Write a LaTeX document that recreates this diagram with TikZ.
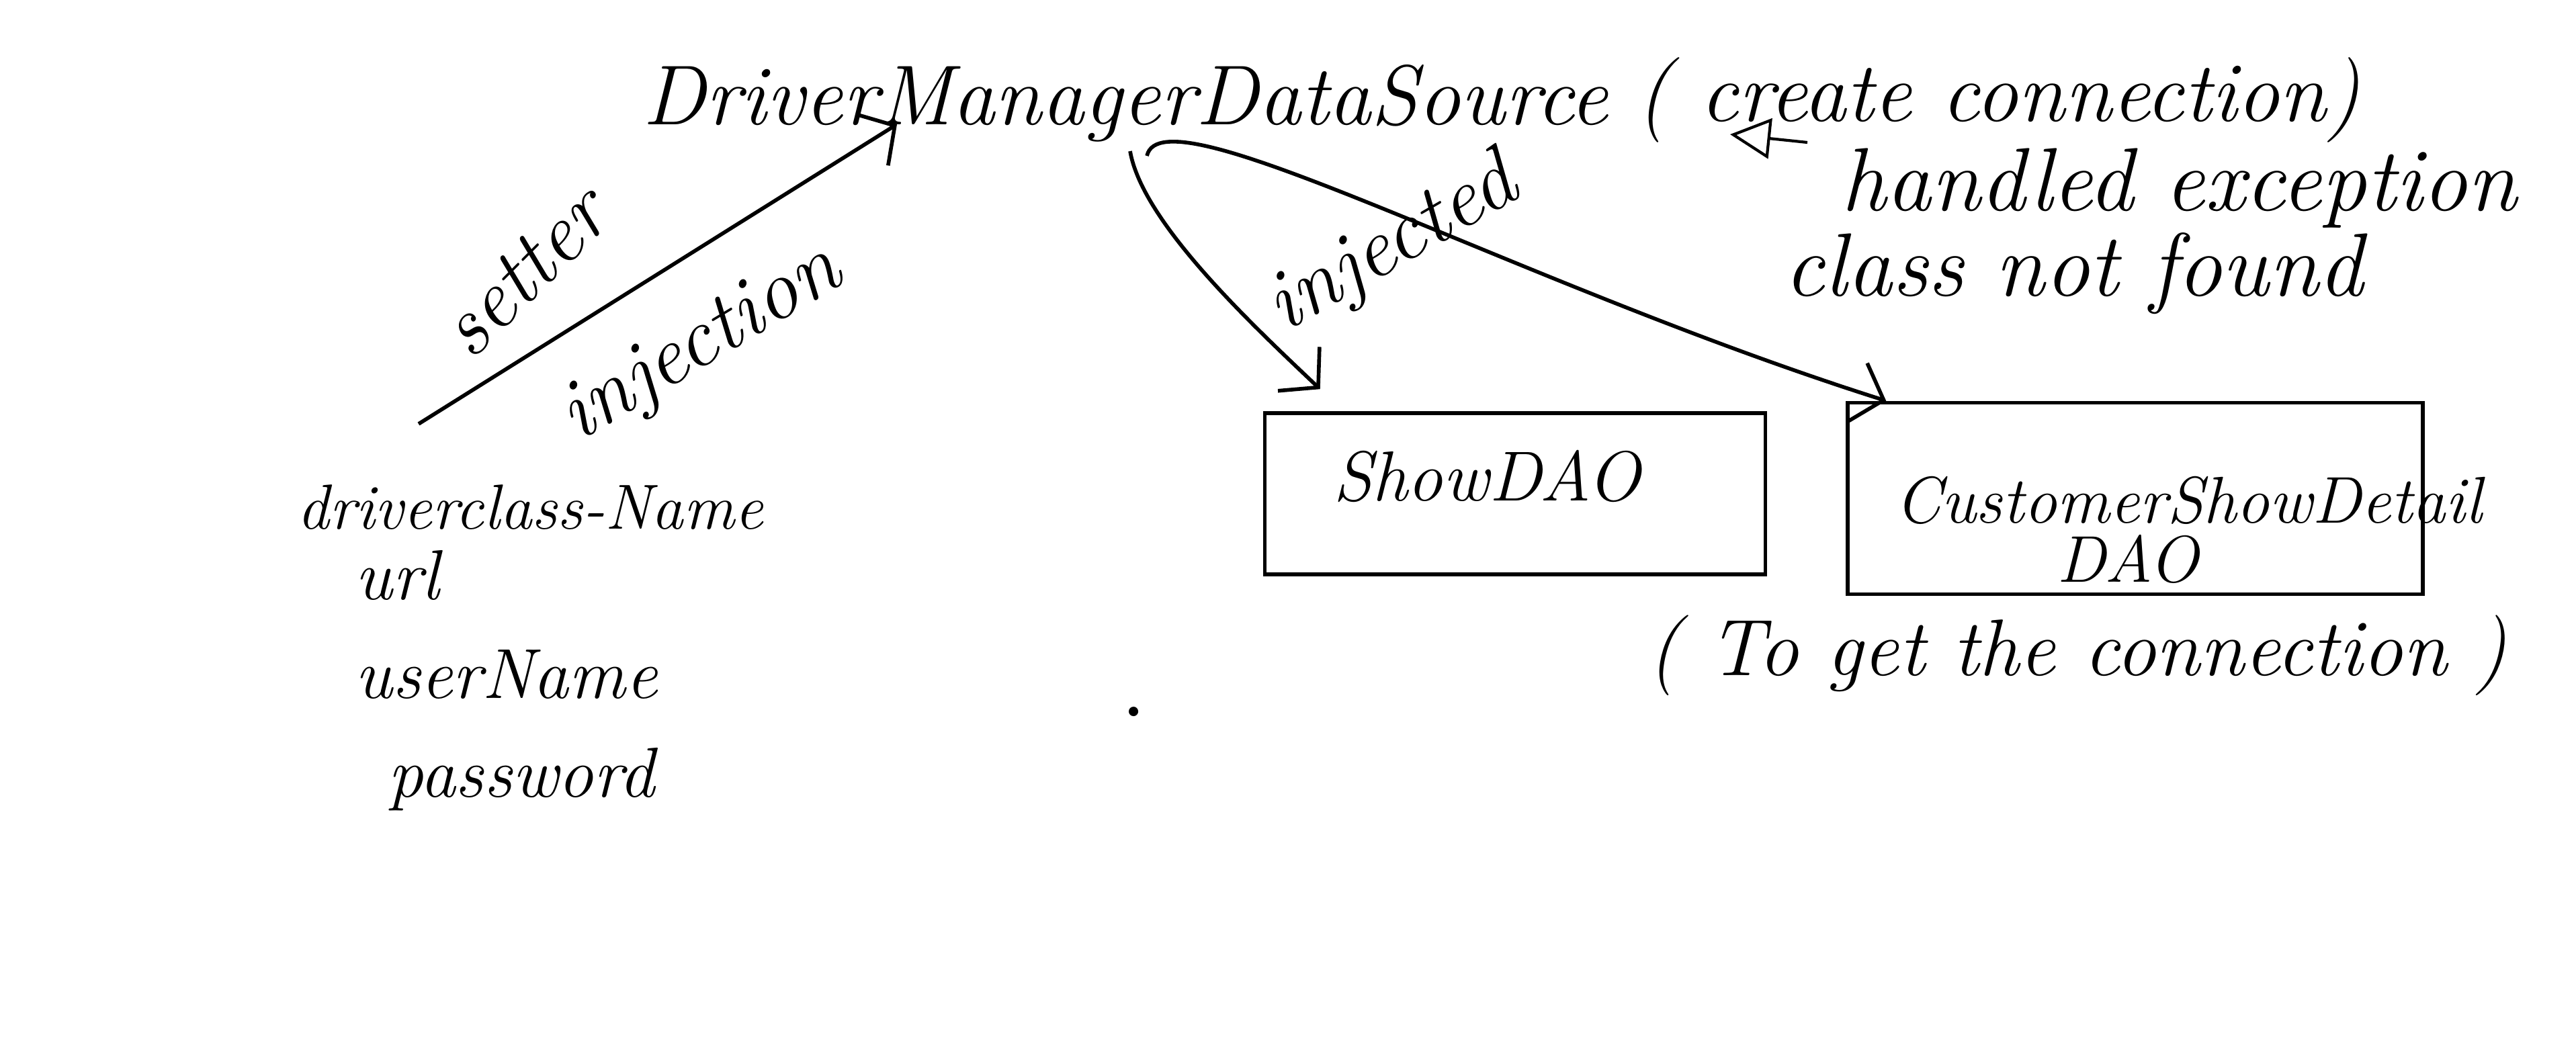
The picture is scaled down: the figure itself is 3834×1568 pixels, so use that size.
\documentclass[tikz,border=0pt]{standalone}
\usepackage{tikz}
\usetikzlibrary{arrows.meta,positioning}

\begin{document}
\begin{tikzpicture}[x=0.1mm,y=-0.1mm,->,>={Straight Barb[length=4mm,width=9mm]},line width=1.6pt]
  \tikzstyle{every node}=[inner sep=0pt]
  \tikzstyle{big}=[font=\fontsize{36}{42}\selectfont\itshape]
  \tikzstyle{note}=[font=\fontsize{38}{44}\selectfont\itshape]
  \tikzstyle{param}=[font=\fontsize{30}{36}\selectfont\itshape]
  \tikzstyle{daobox}=[draw,line width=1.6pt,rectangle]

  \useasboundingbox (0,0) rectangle (3834,1568);

  % data source and its notes
  \node[big,anchor=base west]  (dmds)    at (954,185)  {DriverManagerDataSource};
  \node[big,anchor=base west]  (create)  at (2433,180) {( create connection)};
  \node[note,anchor=base west] (handled) at (2738,313) {handled exception};
  \node[note,anchor=base west] (cnf)     at (2653,440) {class not found};
  \coordinate (hTail) at (2690,212);
  \coordinate (hTip)  at (2575,200);
  \draw[-{Triangle[open,length=6mm,width=6mm]},line width=1.2pt] (hTail) -- (hTip);

  % properties
  \node[param,anchor=base west,font=\fontsize{27}{32}\selectfont\itshape] (dcn) at (440,787) {driverclass-Name};
  \node[param,anchor=base west] (url)  at (526,892)  {url};
  \node[param,anchor=base west] (user) at (526,1039) {userName};
  \node[param,anchor=base west] (pwd)  at (575,1186) {password};
  \fill[-] (1687,1059) circle (2pt);

  \coordinate (setTail) at (623,631);
  \draw (setTail) -- ([xshift=38.1mm]dmds.base west);
  \node[big,rotate=45] (setter) at (780,405)  {setter};
  \node[big,rotate=31] (inj)    at (1045,515) {injection};

  % DAOs
  \node[daobox,minimum width=74.5mm,minimum height=24mm] (show) at (2255,735) {};
  \node[param] (showtxt) at (2213,709) {ShowDAO};
  \node[daobox,minimum width=85.6mm,minimum height=28.5mm] (csd) at (3178,742) {};
  \node[param,font=\fontsize{28}{34}\selectfont\itshape] (csdname) at (3257,745) {CustomerShowDetail};
  \node[param,font=\fontsize{28}{34}\selectfont\itshape,below=1mm of csdname,xshift=-9mm] (csddao) {DAO};
  \node[big,anchor=base west,font=\fontsize{34}{40}\selectfont\itshape] (getconn) at (2450,1005) {( To get the connection )};

  \draw ([xshift=72.8mm,yshift=-4mm]dmds.base west)
    .. controls (1700,330) and (1860,480) .. ([xshift=8.5mm,yshift=3.3mm]show.north west);
  \draw ([xshift=75.3mm,yshift=-4.7mm]dmds.base west)
    .. controls (1730,130) and (2250,420) .. ([xshift=6mm]csd.north west);
  \node[big,rotate=30] (injected) at (2073,367) {injected};
\end{tikzpicture}
\end{document}
